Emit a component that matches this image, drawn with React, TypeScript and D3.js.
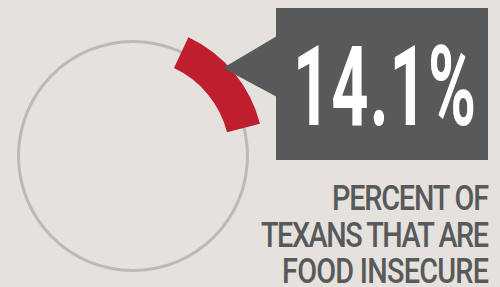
import { useEffect, useRef } from 'react';
import * as d3 from 'd3';

// share of Texans who are food insecure
const percentValue = [14.1];
const headlineLines = ['PERCENT OF', 'TEXANS THAT ARE', 'FOOD INSECURE'];
const headlineWidths = [157, 228, 207];

const App = () => {
    const ref = useRef<SVGSVGElement>(null);

    useEffect(() => {
        const svg = d3.select(ref.current);
        svg.selectAll('*').remove();
        const width = 500;
        const height = 287;
        const cx = 133;
        const cy = 156;

        svg.append('rect')
            .attr('width', width).attr('height', height)
            .attr('fill', '#e5e1dc');

        // share -> angle, arc starts a bit past 12 o'clock like the original
        const startOffset = (25 / 180) * Math.PI;
        const angle = d3.scaleLinear()
            .domain([0, 100])
            .range([startOffset, startOffset + 2 * Math.PI]);

        const g = svg.append('g').attr('transform', `translate(${cx},${cy})`);

        const ring = d3.arc()
            .innerRadius(113)
            .outerRadius(116)
            .startAngle(0)
            .endAngle(2 * Math.PI);
        g.append('path').attr('d', ring({} as any)).attr('fill', '#bcbab5');

        const slice = d3.arc()
            .innerRadius(97)
            .outerRadius(131)
            .startAngle(angle(0))
            .endAngle(angle(percentValue[0]));
        g.append('path').attr('d', slice({} as any)).attr('fill', '#be1e2d');

        // callout box with pointer
        const boxColor = '#58595b';
        svg.append('path')
            .attr('d', d3.line()([[277, 36], [223, 68], [277, 97]]))
            .attr('fill', boxColor);
        svg.append('rect')
            .attr('x', 276).attr('y', 8)
            .attr('width', 212).attr('height', 152)
            .attr('fill', boxColor);

        // condensed look: squeeze glyphs, then spread them to the measured width
        const bigScale = 0.58;
        svg.append('g')
            .attr('transform', `translate(293,125) scale(${bigScale},1)`)
            .append('text')
            .attr('fill', '#ffffff')
            .attr('font-family', 'Roboto, sans-serif')
            .attr('font-weight', 700)
            .attr('font-size', 112)
            .attr('textLength', 183 / bigScale)
            .attr('lengthAdjust', 'spacing')
            .text(`${percentValue[0]}%`);

        const subScale = 0.8;
        svg.append('g')
            .selectAll('g').data(headlineLines).enter().append('g')
            .attr('transform', (d, i) => `translate(489,${210 + i * 36.7}) scale(${subScale},1)`)
            .append('text')
            .attr('text-anchor', 'end')
            .attr('fill', boxColor)
            .attr('font-family', 'Roboto, sans-serif')
            .attr('font-weight', 500)
            .attr('font-size', 36)
            .attr('textLength', (d, i) => headlineWidths[i] / subScale)
            .attr('lengthAdjust', 'spacing')
            .text(d => d);
    }, []);

    return (
        <svg ref={ref} width={500} height={287}
            style={{ position: 'absolute', top: 0, left: 0 }} />
    );
};

export default App;
